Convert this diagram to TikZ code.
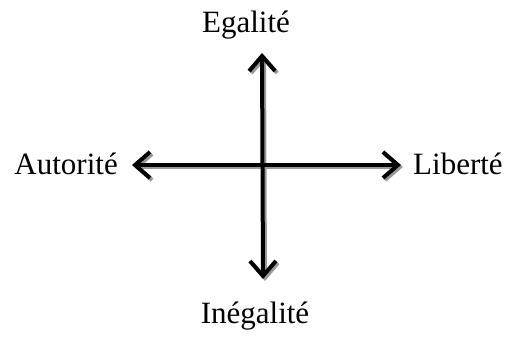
\documentclass[tikz,border=0pt]{standalone}
\usepackage{fontspec}
\setmainfont{Liberation Serif}
\usetikzlibrary{positioning,arrows.meta}

\begin{document}
\begin{tikzpicture}[
  x=1pt, y=1pt,
  lbl/.style={font=\fontsize{31}{36}\selectfont,inner sep=0pt,anchor=base},
  axe/.style={{Straight Barb[length=15pt,width=26pt]}-{Straight Barb[length=15pt,width=26pt]},line width=4pt},
  ombre/.style={axe,draw=black!40},
]
\useasboundingbox (0,0) rectangle (508,337);

\coordinate (h) at (262,284);
\coordinate (b) at (263,58);
\coordinate (g) at (132,172);
\coordinate (d) at (401,172);

\node[lbl]                 (ega) at (246,304) {Egalit\'e};
\node[lbl,anchor=base east](aut) at (118,162) {Autorit\'e};
\node[lbl,anchor=base west](lib) at (413,162) {Libert\'e};
\node[lbl]                 (ine) at (255,14)  {In\'egalit\'e};

% ombre
\draw[ombre] ([shift={(2,-2)}]g) -- ([shift={(2,-2)}]d);
\draw[ombre] ([shift={(2,-2)}]h) -- ([shift={(2,-2)}]b);
% axes
\draw[axe] (g) -- (d);
\draw[axe] (h) -- (b);
\end{tikzpicture}
\end{document}
